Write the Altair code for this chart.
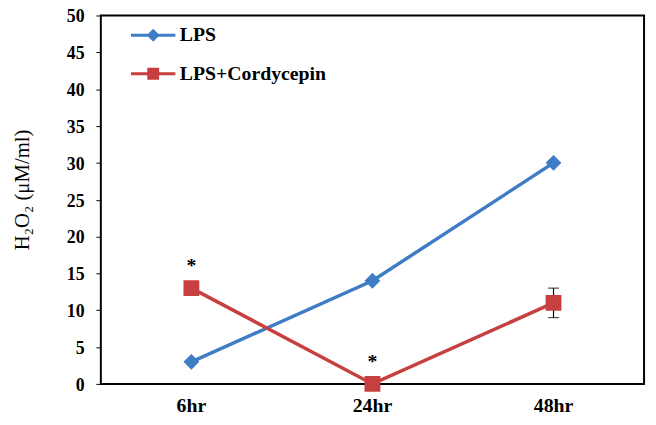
import altair as alt
import pandas as pd

times = ["6hr", "24hr", "48hr"]
series = ["LPS", "LPS+Cordycepin"]
lps = [3, 14, 30]
cord = [13, 0, 11]
lps_err = [0, 0, 0]
cord_err = [0, 0, 2]
lps_sig = ["", "", ""]
cord_sig = ["*", "*", ""]
colors = ["#3E7CC6", "#C83F3F"]

rows = []
for name, vals, errs, sigs in [("LPS", lps, lps_err, lps_sig),
                               ("LPS+Cordycepin", cord, cord_err, cord_sig)]:
    for t, v, e, s in zip(times, vals, errs, sigs):
        rows.append({"time": t, "series": name, "value": v, "err": e, "sig": s})
df = pd.DataFrame(rows)

FONT = "Liberation Serif"
diamond_path = "M-2,0H2M0,-0.4L0.4,0L0,0.4L-0.4,0Z"
square_path = "M-2,0H2M-0.4,-0.4H0.4V0.4H-0.4Z"

legend = alt.Legend(
    title=None, orient="none", legendX=40, legendY=7, padding=0,
    symbolSize=506, symbolStrokeWidth=3, symbolOpacity=1,
    labelFont=FONT, labelFontSize=20, labelFontWeight="bold", labelColor="black",
    labelOffset=14, rowPadding=15,
)
col_scale = alt.Scale(domain=series, range=colors)
shape_scale = alt.Scale(domain=series, range=[diamond_path, square_path])
y_scale = alt.Scale(domain=[0, 50])

x = alt.X("time:N", sort=times, title=None,
          axis=alt.Axis(labelAngle=0, ticks=False, domain=False, labelFont=FONT,
                        labelFontSize=20, labelFontWeight="bold", labelColor="black",
                        labelPadding=12))
y_axis = alt.Axis(values=list(range(0, 51, 5)), title="H₂O₂ (μM/ml)", grid=False,
                  tickSize=5, tickColor="black", tickWidth=1, domain=False,
                  labelOverlap=False, labelBound=False,
                  labelFont=FONT, labelFontSize=18, labelFontWeight="bold",
                  labelColor="black", labelPadding=12, labelOffset=1.5,
                  titleFont=FONT, titleFontSize=21, titleFontWeight="normal",
                  titleColor="black", titleX=-79, titleY=176, titleAngle=270,
                  titleAlign="center", titleBaseline="middle")
y = alt.Y("value:Q", scale=y_scale, axis=y_axis)

base = alt.Chart(df)

lines = base.mark_line(strokeWidth=3.5).encode(
    x=x, y=y,
    stroke=alt.Stroke("series:N", scale=col_scale, legend=legend),
)

points = base.mark_point(filled=True, size=1600, opacity=1).encode(
    x=x, y=y,
    fill=alt.Fill("series:N", scale=col_scale, legend=legend),
    shape=alt.Shape("series:N", scale=shape_scale, legend=legend),
)

err_base = base.transform_filter("datum.err > 0").transform_calculate(
    lo="datum.value - datum.err", hi="datum.value + datum.err")
err_rule = err_base.mark_rule(color="black", strokeWidth=1.2).encode(
    x=x, y=alt.Y("lo:Q", scale=y_scale, axis=y_axis), y2="hi:Q")
cap_lo = err_base.mark_tick(color="black", thickness=1.2, size=11).encode(
    x=x, y=alt.Y("lo:Q", scale=y_scale, axis=y_axis))
cap_hi = err_base.mark_tick(color="black", thickness=1.2, size=11).encode(
    x=x, y=alt.Y("hi:Q", scale=y_scale, axis=y_axis))

stars = base.transform_filter("datum.sig != ''").mark_text(
    dy=-22, fontSize=20, font=FONT, fontWeight="bold", color="black", baseline="middle"
).encode(x=x, y=y, text="sig:N")

chart = alt.layer(lines, err_rule, cap_lo, cap_hi, points, stars).properties(
    width=550, height=373,
    autosize=alt.AutoSizeParams(type="none"),
    padding={"left": 94, "top": 5, "right": 4, "bottom": 39},
).configure_view(stroke="black", strokeWidth=2)

chart.save("out.html", embed_options={"renderer": "svg", "actions": False})
